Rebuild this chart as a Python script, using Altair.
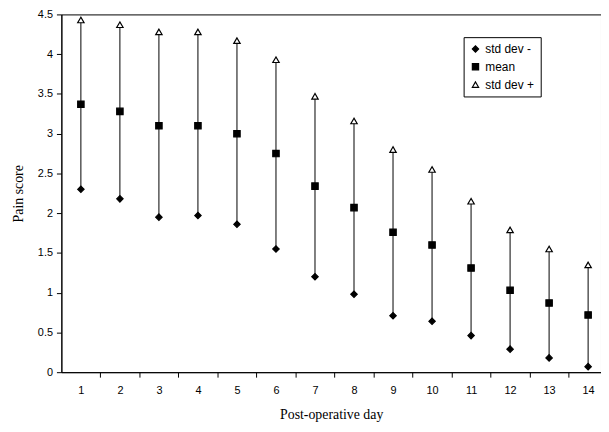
import altair as alt
import pandas as pd

days = list(range(1, 15))
sd_minus = [2.30, 2.18, 1.95, 1.97, 1.86, 1.55, 1.20, 0.98, 0.71, 0.64, 0.46, 0.29, 0.18, 0.07]
means = [3.37, 3.28, 3.10, 3.10, 3.00, 2.75, 2.34, 2.07, 1.76, 1.60, 1.31, 1.03, 0.87, 0.72]
sd_plus = [4.43, 4.37, 4.28, 4.28, 4.17, 3.93, 3.47, 3.16, 2.80, 2.55, 2.15, 1.79, 1.55, 1.35]
series = ["std dev -", "mean", "std dev +"]
y_ticks = [0, 0.5, 1, 1.5, 2, 2.5, 3, 3.5, 4, 4.5]

wide = pd.DataFrame({"day": days, "low": sd_minus, "mean": means, "high": sd_plus})
rows = []
for d, lo, m, hi in zip(days, sd_minus, means, sd_plus):
    rows.append({"day": d, "value": lo, "series": series[0]})
    rows.append({"day": d, "value": m, "series": series[1]})
    rows.append({"day": d, "value": hi, "series": series[2]})
long = pd.DataFrame(rows)

PLOT_W = 546
X_DOMAIN = [0.5, 14.33]
half_step = PLOT_W / (X_DOMAIN[1] - X_DOMAIN[0]) / 2

x_scale = alt.Scale(domain=X_DOMAIN, nice=False, zero=False)
y_scale = alt.Scale(domain=[0, 4.5], nice=False)

x_axis = alt.Axis(
    values=days, format="d", labelOverlap=False,
    tickOffset=half_step, labelOffset=-half_step,
    grid=False, domainColor="black", tickColor="black", tickSize=5,
    labelFont="Liberation Sans", labelFontSize=11, labelColor="black", labelPadding=8,
    title="Post-operative day", titleFont="Liberation Serif", titleFontSize=14,
    titleFontWeight="normal", titleColor="black", titlePadding=12,
)
y_axis = alt.Axis(
    values=y_ticks, labelExpr="toString(datum.value)", labelOverlap=False,
    grid=False, domainColor="black", tickColor="black", tickSize=5,
    labelFont="Liberation Sans", labelFontSize=11, labelColor="black", labelPadding=4,
    title="Pain score", titleFont="Liberation Serif", titleFontSize=14,
    titleFontWeight="normal", titleColor="black", titlePadding=12,
)

rules = alt.Chart(wide).mark_rule(color="black", strokeWidth=1).encode(
    x=alt.X("day:Q", scale=x_scale, axis=x_axis),
    y=alt.Y("low:Q", scale=y_scale, axis=y_axis),
    y2="high:Q",
)

points = alt.Chart(long).mark_point(filled=False, opacity=1, strokeWidth=1.2, size=42).encode(
    x=alt.X("day:Q", scale=x_scale, axis=x_axis),
    y=alt.Y("value:Q", scale=y_scale, axis=y_axis),
    shape=alt.Shape("series:N",
                    scale=alt.Scale(domain=series, range=["diamond", "square", "triangle-up"]),
                    legend=alt.Legend(title=None)),
    fill=alt.Fill("series:N",
                  scale=alt.Scale(domain=series, range=["black", "black", "white"]),
                  legend=alt.Legend(title=None)),
    stroke=alt.Stroke("series:N",
                      scale=alt.Scale(domain=series, range=["black", "black", "black"]),
                      legend=alt.Legend(title=None)),
)

chart = alt.layer(rules, points).properties(
    width=PLOT_W, height=362,
    padding={"left": 54, "top": 4, "right": 0, "bottom": 56},
    autosize=alt.AutoSizeParams(type="none"),
).configure_view(stroke="black", strokeWidth=1).configure_legend(
    orient="none", legendX=407, legendY=23,
    strokeColor="black", padding=6, cornerRadius=0, fillColor="white",
    labelFont="Liberation Sans", labelFontSize=12, labelColor="black",
    symbolSize=40, symbolStrokeWidth=1.2, rowPadding=6,
)

chart.save("out.html", embed_options={"renderer": "svg", "actions": False})
